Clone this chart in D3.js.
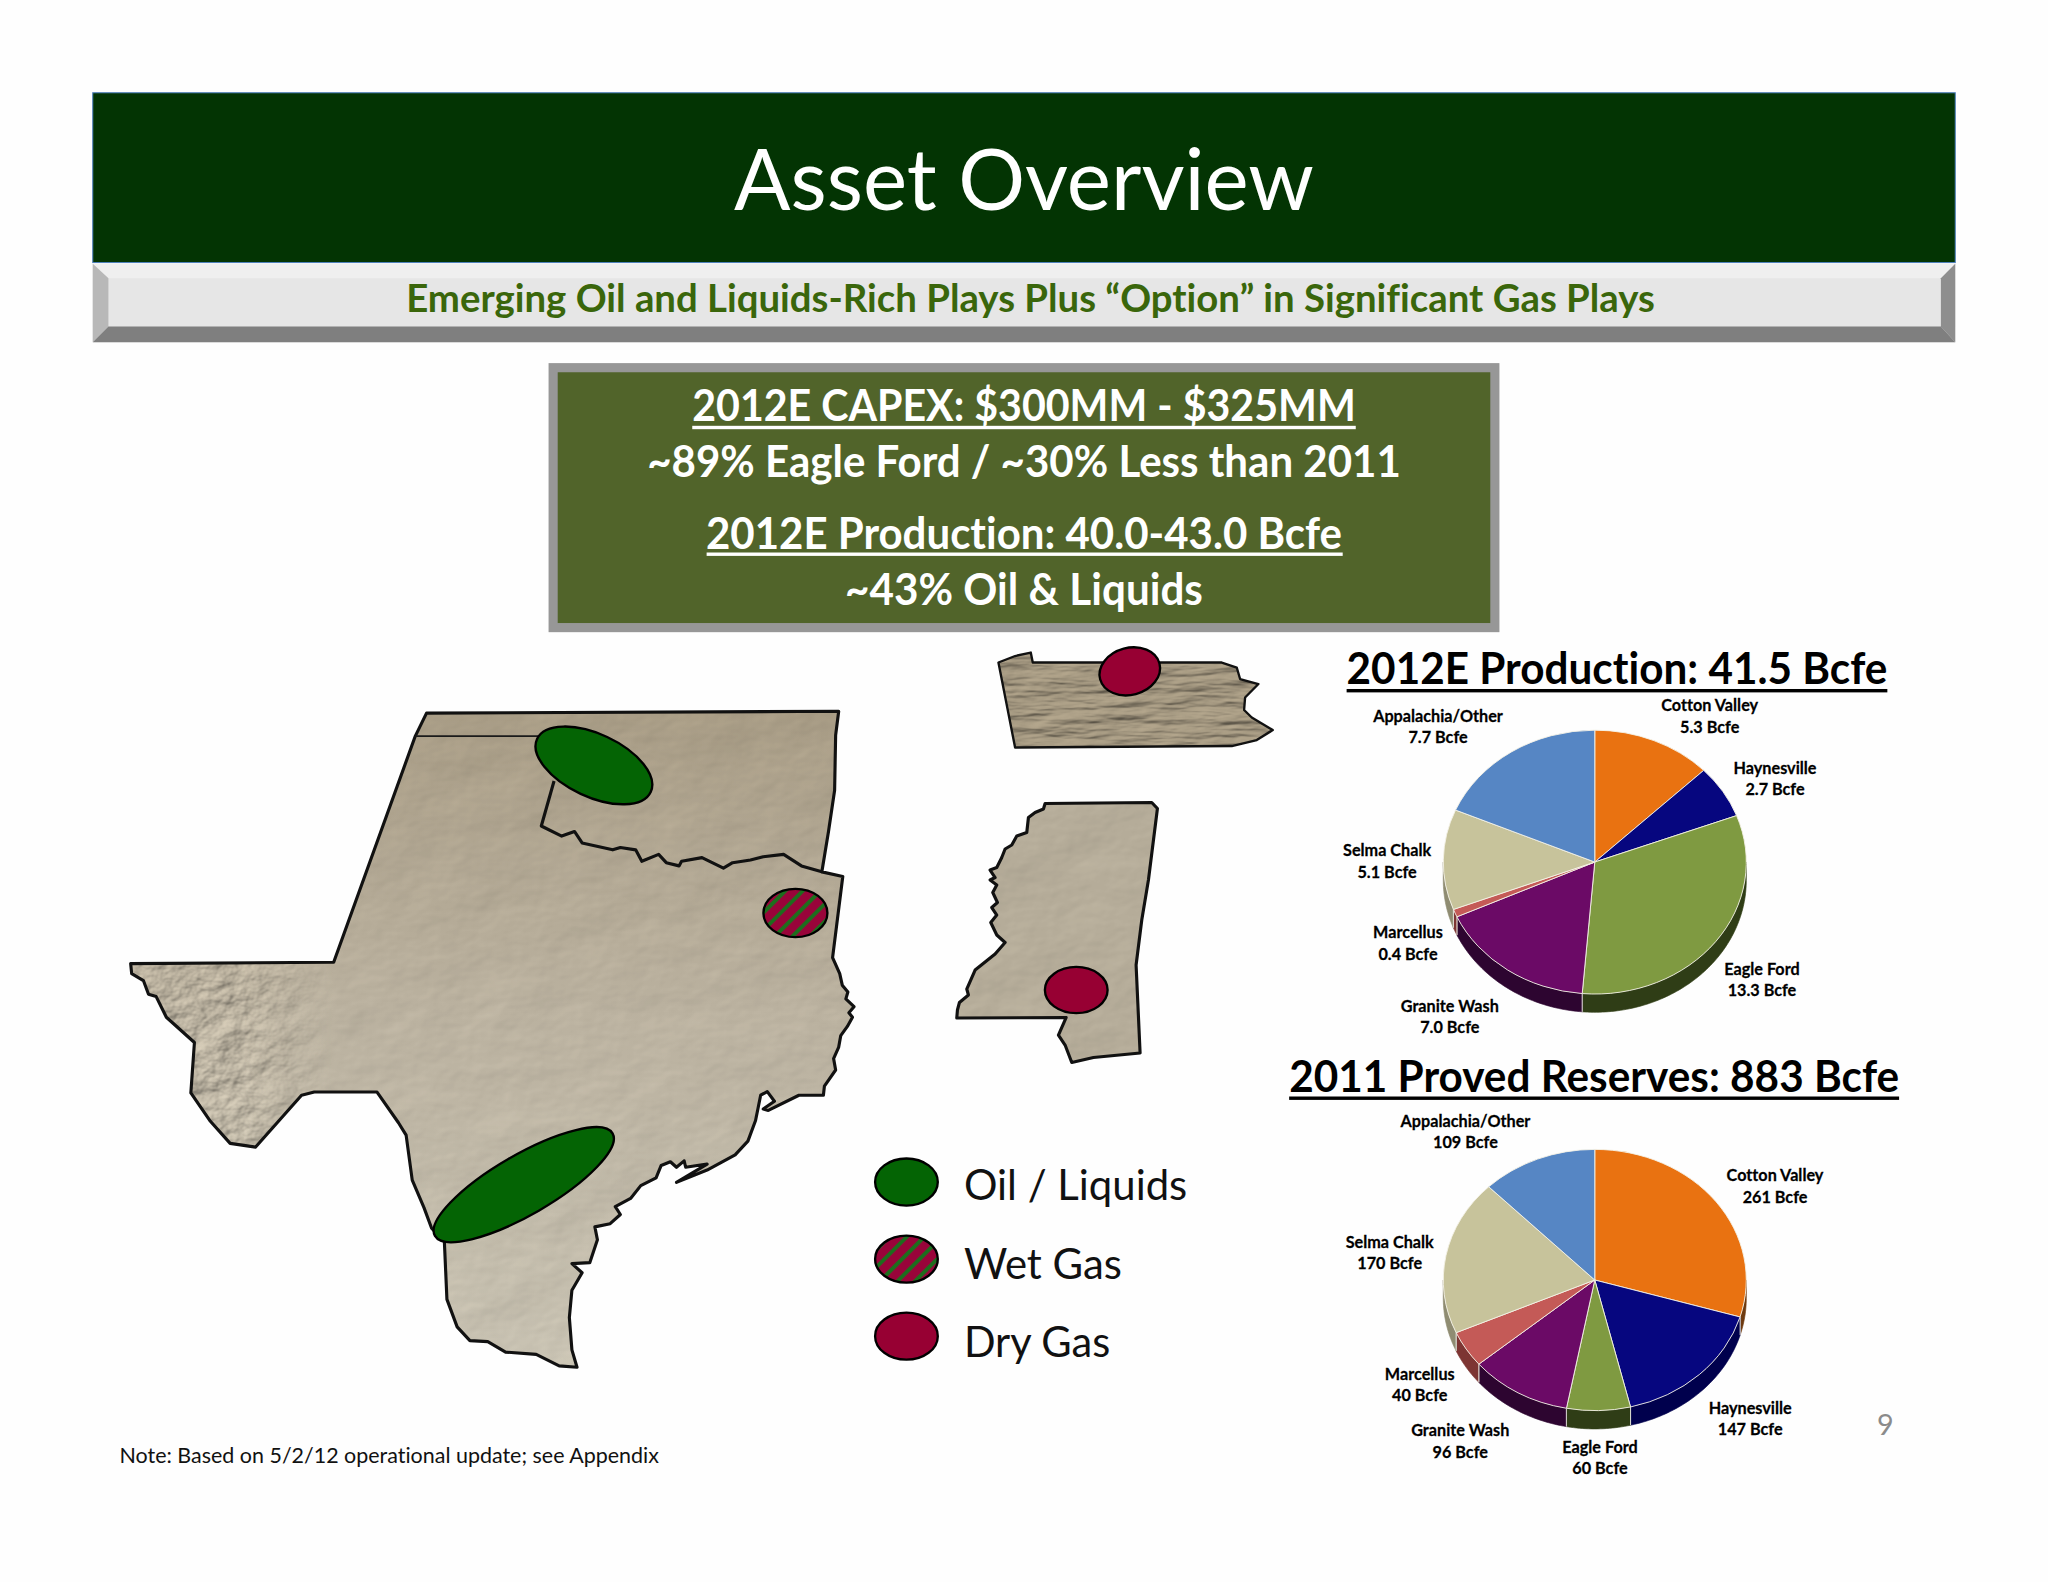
<!DOCTYPE html>
<html>
<head>
<meta charset="utf-8">
<title>Asset Overview</title>
<script src="https://cdn.jsdelivr.net/npm/d3@7"></script>
<style>
    html, body { margin: 0; padding: 0; background: #fff; }
    svg { display: block; }
    text { font-family: Lato, "Open Sans", sans-serif; font-variant-ligatures: none; }
</style>
</head>
<body>
<div id="chart"></div>
<script>
// chart values
var plays = ['Cotton Valley', 'Haynesville', 'Eagle Ford', 'Granite Wash', 'Marcellus', 'Selma Chalk', 'Appalachia/Other'];
var production_values = [5.3, 2.7, 13.3, 7.0, 0.4, 5.1, 7.7];
var production_labels = ['5.3 Bcfe', '2.7 Bcfe', '13.3 Bcfe', '7.0 Bcfe', '0.4 Bcfe', '5.1 Bcfe', '7.7 Bcfe'];
var reserve_values = [261, 147, 60, 96, 40, 170, 109];
var reserve_labels = ['261 Bcfe', '147 Bcfe', '60 Bcfe', '96 Bcfe', '40 Bcfe', '170 Bcfe', '109 Bcfe'];
var legend_names = ['Oil / Liquids', 'Wet Gas', 'Dry Gas'];

// slice styles and label spots, in play order
var play_colors = ['#e97211', '#06067f', '#7f9a41', '#6b0a66', '#c45a57', '#c7c39b', '#5686c4'];
var wall_colors = ['#6e3a10', '#00004d', '#2f3d16', '#2d0530', '#7d3533', '#8f8c72', '#3a5c88'];
var production_spots = [[1309, 540], [1359, 588], [1349, 742], [1110, 770], [1078, 714], [1062, 651], [1101, 548]];
var reserve_spots = [[1359, 900], [1340, 1078], [1225, 1108], [1118, 1095], [1087, 1052], [1064, 951], [1122, 858]];

// state outlines
var texas_oklahoma = [[640,72],[1448,68],[1442,120],[1440,240],[1428,330],[1415,418],[1456,428],[1436,605],[1450,640],[1455,665],[1466,680],[1462,695],[1478,712],[1468,725],[1475,735],[1465,755],[1452,775],[1448,800],[1438,825],[1442,850],[1420,885],[1418,905],[1370,905],[1310,938],[1300,935],[1322,918],[1308,897],[1295,905],[1285,960],[1270,1005],[1245,1035],[1190,1068],[1130,1095],[1190,1055],[1148,1062],[1145,1048],[1130,1062],[1118,1050],[1100,1058],[1090,1085],[1060,1102],[1040,1130],[1010,1148],[1020,1165],[1000,1185],[970,1192],[975,1220],[960,1270],[925,1272],[945,1292],[925,1330],[920,1390],[925,1460],[935,1498],[900,1495],[855,1470],[795,1465],[760,1442],[725,1440],[700,1410],[680,1350],[675,1225],[650,1195],[635,1150],[612,1090],[600,992],[585,965],[543,898],[420,898],[395,905],[305,1018],[255,1010],[215,960],[178,900],[185,790],[130,735],[110,690],[95,685],[85,655],[62,640],[60,618],[458,615],[618,122]];
var panhandle_line = [[618,122],[860,122]];
var red_river = [[890,220],[865,318],[905,340],[930,330],[945,355],[1005,370],[1020,365],[1050,370],[1062,395],[1095,380],[1110,398],[1135,405],[1140,395],[1180,387],[1222,410],[1240,398],[1275,392],[1300,385],[1340,380],[1375,405],[1415,418]];
var pennsylvania = [[475,85],[525,72],[572,65],[578,85],[1145,85],[1190,95],[1200,118],[1255,128],[1215,155],[1212,180],[1235,195],[1298,220],[1250,240],[1175,252],[525,255]];
var mississippi = [[610,378],[615,367],[935,365],[952,377],[925,520],[905,600],[888,690],[900,866],[760,875],[695,885],[675,850],[655,830],[678,795],[350,796],[352,780],[358,765],[385,750],[380,738],[405,700],[465,668],[495,645],[470,630],[452,605],[470,590],[455,575],[472,565],[458,545],[470,530],[450,520],[465,515],[450,500],[470,495],[485,475],[495,458],[515,450],[530,432],[560,425],[565,395],[585,385]];

// play areas on the maps: x, y, rx, ry, rotate, kind
var play_areas = [
    [454.7, 586, 48, 24, 25, 'oil'],
    [401, 907, 78.5, 23, -30, 'oil'],
    [609, 699, 24.5, 18.5, 0, 'wet'],
    [865, 514, 23.5, 18, -15, 'dry'],
    [824, 758, 24, 17.7, 0, 'dry']
];
var legend_y = [905, 964, 1023];
var legend_text_y = [919, 979, 1039];
var legend_kinds = ['oil', 'wet', 'dry'];

var width = 1568;
var height = 1211.2;

var svg = d3.select('#chart')
    .append('svg')
    .attr('width', 2048)
    .attr('height', 1582)
    .attr('viewBox', '0 0 ' + width + ' ' + height);

var defs = svg.append('defs');
make_defs();

svg.append('rect').attr('width', width).attr('height', height).style('fill', '#fefefe');

draw_header();
draw_capex_box();
draw_maps();
draw_legend();
draw_pie(production_values, production_labels, production_spots, 1221, 660, 116, 101, 14);
draw_pie(reserve_values, reserve_labels, reserve_spots, 1221, 980, 116, 100, 14);

add_text('2012E Production: 41.5 Bcfe', 1238, 524, 33, 'bold', '#000', 414);
svg.append('rect').attr('x', 1031).attr('y', 527.5).attr('width', 414).attr('height', 2.6).style('fill', '#000');
add_text('2011 Proved Reserves: 883 Bcfe', 1220.5, 836, 33, 'bold', '#000', 467);
svg.append('rect').attr('x', 987).attr('y', 839.5).attr('width', 467).attr('height', 2.6).style('fill', '#000');

add_text('9', 1443.5, 1099, 22, 'normal', '#8b8b8b');
add_text('Note: Based on 5/2/12 operational update; see Appendix', 298, 1120, 16.5, 'normal', '#111', 413);

function add_text(str, x, y, size, weight, color, fit) {
    var t = svg.append('text')
        .attr('x', x)
        .attr('y', y)
        .attr('text-anchor', 'middle')
        .style('font-size', size + 'px')
        .style('font-weight', weight)
        .style('fill', color)
        .text(str);
    if (fit) {
        t.attr('textLength', fit).attr('lengthAdjust', 'spacingAndGlyphs');
    }
    return t;
}

function make_defs() {
    var hatch = defs.append('pattern')
        .attr('id', 'wet_hatch')
        .attr('patternUnits', 'userSpaceOnUse')
        .attr('width', 9.5)
        .attr('height', 9.5)
        .attr('patternTransform', 'rotate(-45)');
    hatch.append('rect').attr('width', 9.5).attr('height', 9.5).style('fill', '#99043a');
    hatch.append('rect').attr('width', 9.5).attr('height', 3).style('fill', '#1d6e1d');

    var land = defs.append('linearGradient')
        .attr('id', 'land')
        .attr('x1', 0).attr('y1', 0).attr('x2', 0).attr('y2', 1);
    land.append('stop').attr('offset', '0%').attr('stop-color', '#a99d86');
    land.append('stop').attr('offset', '45%').attr('stop-color', '#bbb2a0');
    land.append('stop').attr('offset', '100%').attr('stop-color', '#c8c2b2');

    // rough ground only in the west, fades out across the map
    var fade = defs.append('linearGradient')
        .attr('id', 'west_fade')
        .attr('gradientUnits', 'userSpaceOnUse')
        .attr('x1', 100).attr('y1', 0).attr('x2', 255).attr('y2', 0);
    fade.append('stop').attr('offset', '0%').attr('stop-color', '#fff');
    fade.append('stop').attr('offset', '55%').attr('stop-color', '#fff');
    fade.append('stop').attr('offset', '100%').attr('stop-color', '#000');
    defs.append('mask')
        .attr('id', 'west_mask')
        .attr('maskUnits', 'userSpaceOnUse')
        .attr('x', 0).attr('y', 730).attr('width', 700).attr('height', 170)
        .append('rect')
        .attr('x', 0).attr('y', 730).attr('width', 700).attr('height', 170)
        .style('fill', 'url(#west_fade)');

    make_relief('relief_soft', 0.018, 0.028, 0.9, 1);
    make_relief('relief_west', 0.045, 0.06, 2.4, 5);
    make_relief('relief_ridges', 0.018, 0.11, 2.6, 11);
}

function make_relief(id, freq_x, freq_y, scale, seed) {
    var f = defs.append('filter')
        .attr('id', id)
        .attr('x', '0%').attr('y', '0%').attr('width', '100%').attr('height', '100%')
        .attr('color-interpolation-filters', 'sRGB');
    f.append('feTurbulence')
        .attr('type', 'fractalNoise')
        .attr('baseFrequency', freq_x + ' ' + freq_y)
        .attr('numOctaves', 4)
        .attr('seed', seed)
        .attr('result', 'noise');
    f.append('feDiffuseLighting')
        .attr('in', 'noise')
        .attr('surfaceScale', scale)
        .attr('lighting-color', '#fff')
        .attr('result', 'light')
        .append('feDistantLight')
        .attr('azimuth', 225)
        .attr('elevation', 60);
    f.append('feComposite')
        .attr('in', 'SourceGraphic')
        .attr('in2', 'light')
        .attr('operator', 'arithmetic')
        .attr('k1', 1.15)
        .attr('result', 'lit');
    f.append('feComposite')
        .attr('in', 'lit')
        .attr('in2', 'SourceAlpha')
        .attr('operator', 'in');
}

function draw_header() {
    svg.append('rect')
        .attr('x', 71).attr('y', 71).attr('width', 1426).attr('height', 130)
        .style('fill', '#033403')
        .style('stroke', '#4f81bd')
        .style('stroke-width', 0.8);
    add_text('Asset Overview', 784, 161, 66, 'normal', '#fff', 444);

    // bevelled band below the header
    var line = d3.line();
    svg.append('rect').attr('x', 71).attr('y', 202).attr('width', 1426).attr('height', 60).style('fill', '#e6e6e6');
    svg.append('path').attr('d', line([[71, 202], [1497, 202], [1486, 213], [83, 213]]) + 'Z').style('fill', '#efefef');
    svg.append('path').attr('d', line([[71, 202], [83, 213], [83, 250], [71, 262]]) + 'Z').style('fill', '#b8b8b8');
    svg.append('path').attr('d', line([[1497, 202], [1486, 213], [1486, 250], [1497, 262]]) + 'Z').style('fill', '#8e8e8e');
    svg.append('path').attr('d', line([[71, 262], [83, 250], [1486, 250], [1497, 262]]) + 'Z').style('fill', '#7f7f7f');
    add_text('Emerging Oil and Liquids-Rich Plays Plus \u201cOption\u201d in Significant Gas Plays', 789, 239, 29, 'bold', '#3a660b', 956);
}

function draw_capex_box() {
    svg.append('rect')
        .attr('x', 423.5).attr('y', 281.5).attr('width', 721).attr('height', 199)
        .style('fill', '#51642a')
        .style('stroke', '#979797')
        .style('stroke-width', 7);
    add_text('2012E CAPEX: $300MM - $325MM', 784, 322, 33, 'bold', '#fff', 508);
    svg.append('rect').attr('x', 530).attr('y', 326).attr('width', 508).attr('height', 2.6).style('fill', '#fff');
    add_text('~89% Eagle Ford / ~30% Less than 2011', 784, 365, 33, 'bold', '#fff', 577);
    add_text('2012E Production: 40.0-43.0 Bcfe', 784, 420, 33, 'bold', '#fff', 487);
    svg.append('rect').attr('x', 541).attr('y', 423).attr('width', 487).attr('height', 2.6).style('fill', '#fff');
    add_text('~43% Oil & Liquids', 784, 463, 33, 'bold', '#fff', 274);
}

function draw_maps() {
    // big map traced at one scale, the two small states at another
    var big_x = d3.scaleLinear().domain([0, 1568]).range([76.6, 689]);
    var big_y = d3.scaleLinear().domain([0, 1500]).range([520.7, 1047.5]);
    var small_x = d3.scaleLinear().domain([0, 1440]).range([643.2, 1010.7]);
    var small_y = d3.scaleLinear().domain([0, 1000]).range([474.7, 857.5]);
    var big = d3.line()
        .x(function(d) { return big_x(d[0]); })
        .y(function(d) { return big_y(d[1]); });
    var small = d3.line()
        .x(function(d) { return small_x(d[0]); })
        .y(function(d) { return small_y(d[1]); });

    var big_d = big(texas_oklahoma) + 'Z';
    svg.append('path').attr('d', big_d).style('fill', 'url(#land)').attr('filter', 'url(#relief_soft)');
    svg.append('g')
        .attr('mask', 'url(#west_mask)')
        .append('path')
        .attr('d', big_d)
        .style('fill', 'url(#land)')
        .attr('filter', 'url(#relief_west)');
    outline(big_d, 2.4);
    svg.append('path').attr('d', big(panhandle_line)).style('fill', 'none').style('stroke', '#1a1a1a').style('stroke-width', 1.4);
    outline(big(red_river), 2.4);

    var pa_d = small(pennsylvania) + 'Z';
    svg.append('path').attr('d', pa_d).style('fill', '#a2967f').attr('filter', 'url(#relief_ridges)');
    outline(pa_d, 1.8);

    var ms_d = small(mississippi) + 'Z';
    svg.append('path').attr('d', ms_d).style('fill', '#b6ad9a').attr('filter', 'url(#relief_soft)');
    outline(ms_d, 2.4);

    svg.selectAll('ellipse.area')
        .data(play_areas)
        .enter()
        .append('ellipse')
        .attr('class', 'area')
        .attr('rx', function(d) { return d[2]; })
        .attr('ry', function(d) { return d[3]; })
        .attr('transform', function(d) {
            return 'translate(' + d[0] + ',' + d[1] + ') rotate(' + d[4] + ')';
        })
        .style('fill', function(d) { return kind_fill(d[5]); })
        .style('stroke', '#000')
        .style('stroke-width', 1.8);
}

function outline(d, w) {
    svg.append('path')
        .attr('d', d)
        .style('fill', 'none')
        .style('stroke', '#111')
        .style('stroke-width', w)
        .style('stroke-linejoin', 'round');
}

function kind_fill(kind) {
    if (kind == 'oil') return '#046404';
    if (kind == 'wet') return 'url(#wet_hatch)';
    return '#970033';
}

function draw_legend() {
    svg.selectAll('ellipse.legend')
        .data(legend_kinds)
        .enter()
        .append('ellipse')
        .attr('class', 'legend')
        .attr('cx', 694)
        .attr('cy', function(d, i) { return legend_y[i]; })
        .attr('rx', 24)
        .attr('ry', 18)
        .style('fill', kind_fill)
        .style('stroke', '#000')
        .style('stroke-width', 1.8);

    var fits = [171, 121, 112];
    legend_names.forEach(function(name, i) {
        add_text(name, 738 + fits[i] / 2, legend_text_y[i], 33, 'normal', '#111', fits[i]);
    });
}

function draw_pie(values, labels, spots, cx, cy, rx, ry, depth) {
    var x = d3.scaleLinear().domain([-1, 1]).range([cx - rx, cx + rx]);
    var y = d3.scaleLinear().domain([-1, 1]).range([cy - ry, cy + ry]);

    var slices = d3.pie().sort(null)(values);
    var arc = d3.arc().innerRadius(0).outerRadius(1);

    // side wall, only the part that faces the viewer
    var wall = d3.area()
        .x(function(a) { return x(Math.sin(a)); })
        .y0(function(a) { return y(-Math.cos(a)); })
        .y1(function(a) { return y(-Math.cos(a)) + depth; });

    var g = svg.append('g');
    slices.forEach(function(s) {
        var a0 = Math.max(s.startAngle, Math.PI / 2);
        var a1 = Math.min(s.endAngle, Math.PI * 3 / 2);
        if (a1 <= a0) return;
        var steps = d3.range(a0, a1, 0.02).concat([a1]);
        g.append('path')
            .attr('d', wall(steps))
            .style('fill', wall_colors[s.index])
            .style('stroke', wall_colors[s.index])
            .style('stroke-width', 0.5);
        [a0, a1].forEach(function(a) {
            if (a <= Math.PI / 2 || a >= Math.PI * 3 / 2) return;
            g.append('line')
                .attr('x1', x(Math.sin(a))).attr('x2', x(Math.sin(a)))
                .attr('y1', y(-Math.cos(a))).attr('y2', y(-Math.cos(a)) + depth)
                .style('stroke', '#e8e8e0')
                .style('stroke-width', 0.7);
        });
    });

    svg.append('g')
        .attr('transform', 'translate(' + cx + ',' + cy + ') scale(' + rx + ',' + ry + ')')
        .selectAll('path')
        .data(slices)
        .enter()
        .append('path')
        .attr('d', arc)
        .attr('vector-effect', 'non-scaling-stroke')
        .style('fill', function(d) { return play_colors[d.index]; })
        .style('stroke', '#f4f2e6')
        .style('stroke-width', 0.9);

    var lab = svg.append('g');
    plays.forEach(function(name, i) {
        [name, labels[i]].forEach(function(str, j) {
            var t = lab.append('text')
                .attr('x', spots[i][0])
                .attr('y', spots[i][1] + 4.5 + j * 16.4)
                .attr('text-anchor', 'middle')
                .style('font-size', '13.5px')
                .style('font-weight', 'bold')
                .style('fill', '#000')
                .style('stroke', '#000')
                .style('stroke-width', 0.2)
                .text(str);
            // labels in the slide run narrower than Lato
            t.attr('textLength', t.node().getComputedTextLength() * 0.92)
                .attr('lengthAdjust', 'spacingAndGlyphs');
        });
    });
}
</script>
</body>
</html>
